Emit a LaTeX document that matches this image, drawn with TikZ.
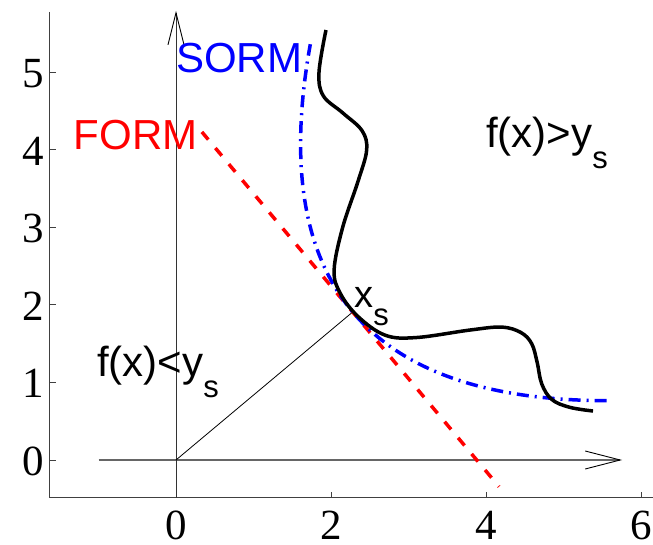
\documentclass[tikz,border=0pt]{standalone}
\usepackage{fontspec}
\setmainfont{Liberation Serif}
\newfontfamily\lsans{Liberation Sans}
\usetikzlibrary{arrows.meta}
\tikzset{
  ticklab/.style={inner sep=0pt, font=\fontsize{43}{43}\selectfont},
  lab/.style={inner sep=0pt, anchor=base west, font=\lsans\fontsize{42}{42}\selectfont},
  framel/.style={draw=black!75, line width=1pt},
  axisl/.style={draw=black!60, line width=1.3pt},
  formline/.style={draw=red, line width=3.5pt, dash pattern=on 10pt off 11pt},
  sormline/.style={draw=blue, line width=3.5pt, dash pattern=on 12pt off 6pt on 2pt off 6pt},
  limitline/.style={draw=black, line width=3.5pt, line join=round},
}
\newcommand{\subs}[2]{\raisebox{-#1pt}{\fontsize{31}{31}\selectfont #2}}
\begin{document}
\begin{tikzpicture}[x=77.5pt,y=77.5pt]
\useasboundingbox (-2.2710,-1.0839) rectangle (6.1548,5.9355);
% frame
\coordinate (ftl) at (-1.626,5.781);
\coordinate (fbl) at (-1.626,-0.490);
\coordinate (fbr) at (6.16,-0.490);
\draw[framel] (ftl) -- (fbl) -- (fbr);
\foreach \v in {0,...,5}{
  \draw[framel] (-1.626,\v) -- ++(0.077,0);
  \node[ticklab, anchor=base east] (yl\v) at (-1.705,\v-0.194) {\v};
}
\foreach \v in {0,2,4,6}{
  \draw[framel] (\v,-0.490) -- ++(0,0.077);
  \node[ticklab, anchor=base] (xl\v) at (\v,-1.03) {\v};
}
% axes
\coordinate (xa0) at (-1,0);
\coordinate (xa1) at (5.755,0);
\coordinate (ya0) at (0,-0.490);
\coordinate (ya1) at (0,5.794);
\draw[axisl, -{Straight Barb[length=35pt,width=18pt,line width=0.9pt,black]}] (xa0) -- (xa1);
\draw[draw=black!80, line width=1pt, -{Straight Barb[length=32pt,width=16pt,line width=0.9pt,black]}] (ya0) -- (ya1);
% design point
\coordinate (O) at (0,0);
\coordinate (xs) at (2.28,1.91);
\draw[black, line width=0.8pt] (O) -- (xs);
% FORM line
\coordinate (f0) at (0.334,4.233);
\coordinate (f1) at (4.168,-0.344);
\draw[formline] (f0) -- (f1);
% SORM parabola
\draw[sormline] plot[domain=-2.98:3.0, samples=120, variable=\t]
  ({2.28 - 0.6422*\t + 0.2*\t*\t*0.7666}, {1.91 + 0.7666*\t + 0.2*\t*\t*0.6422});
% limit state curve
\draw[limitline] plot[smooth, tension=0.6] coordinates {
  (1.935,5.548) (1.845,5.0) (1.90,4.70) (2.15,4.48) (2.40,4.25)
  (2.46,4.0) (2.35,3.60) (2.15,3.0) (2.04,2.45) (2.12,2.15)
  (2.35,1.85) (2.70,1.61) (3.10,1.58) (3.794,1.677) (4.20,1.715)
  (4.45,1.645) (4.59,1.50) (4.66,1.26) (4.72,0.98) (4.85,0.78)
  (5.08,0.68) (5.381,0.632)};
% labels
\node[lab, text=blue] (sorm) at (0,4.994) {SORM};
\node[lab, text=red] (form) at (-1.323,4.0) {FORM};
\node[lab] (gt) at (4.0,4.03) {f(x)>y\subs{21}{s}};
\node[lab] (lt) at (-1.019,1.071) {f(x)<y\subs{21}{s}};
\node[lab, font=\lsans\fontsize{38}{38}\selectfont] (xslab) at (2.30,1.974) {x\subs{18}{s}};
\end{tikzpicture}
\end{document}
